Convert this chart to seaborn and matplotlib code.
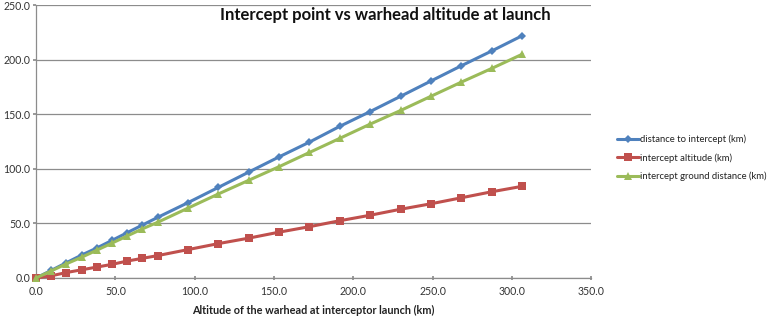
import matplotlib
matplotlib.use("Agg")
import matplotlib.pyplot as plt
import seaborn as sns
import pandas as pd

altitude = [0.0, 9.6, 19.1, 28.7, 38.3, 47.9, 57.4, 67.0, 76.6, 95.7, 114.9, 134.0,
            153.2, 172.3, 191.5, 210.6, 229.8, 248.9, 268.1, 287.2, 306.4]
distance_to_intercept = [0.0, 7.0, 14.0, 21.0, 27.5, 34.5, 41.5, 48.5, 55.5, 69.0, 83.0, 97.0,
                         111.0, 124.5, 139.0, 152.5, 166.5, 180.5, 194.5, 208.0, 222.0]
intercept_altitude = [0.0, 2.0, 5.0, 7.5, 10.0, 12.5, 15.5, 18.0, 20.5, 26.0, 31.5, 36.5,
                      42.0, 47.0, 52.5, 57.5, 63.0, 68.0, 73.5, 79.0, 84.0]
intercept_ground = [0.0, 6.5, 13.0, 19.0, 25.5, 32.0, 38.5, 45.0, 51.0, 64.0, 77.0, 89.5,
                    102.0, 115.0, 128.0, 141.0, 153.5, 166.5, 179.5, 192.0, 205.0]
series_names = ["distance to intercept (km)", "intercept altitude (km)",
                "intercept ground distance (km)"]
x_ticks = [0, 50, 100, 150, 200, 250, 300, 350]
y_ticks = [0, 50, 100, 150, 200, 250]

rows = []
for name, vals in zip(series_names, [distance_to_intercept, intercept_altitude, intercept_ground]):
    for x, v in zip(altitude, vals):
        rows.append({"alt": x, "val": v, "series": name})
df = pd.DataFrame(rows)

sns.set_theme(style="white")
plt.rcParams['font.family'] = ['Lato', 'DejaVu Sans']

fig = plt.figure(figsize=(7.68, 3.21), dpi=100)
ax = fig.add_axes([0.047, 0.134, 0.723, 0.85])

palette = {series_names[0]: "#4F81BD", series_names[1]: "#C0504D", series_names[2]: "#9BBB59"}
markers = {series_names[0]: "D", series_names[1]: "s", series_names[2]: "^"}
sizes_m = {series_names[0]: 4, series_names[1]: 6, series_names[2]: 6}

for name in series_names:
    sub = df[df["series"] == name]
    sns.lineplot(data=sub, x="alt", y="val", ax=ax, color=palette[name], marker=markers[name],
                 markersize=sizes_m[name], markeredgewidth=0, linewidth=2.2, label=name,
                 clip_on=False, zorder=3)

ax.set_xlim(0, 350)
ax.set_ylim(0, 250)
ax.set_xticks(x_ticks)
ax.set_yticks(y_ticks)
ax.set_xticklabels([f"{t:.1f}" for t in x_ticks], fontsize=7.6, color="#333333")
ax.set_yticklabels([f"{t:.1f}" for t in y_ticks], fontsize=7.6, color="#333333")
ax.yaxis.grid(True, color="#8c8c8c", linewidth=0.9)
ax.xaxis.grid(False)
for s in ["top", "right"]:
    ax.spines[s].set_visible(False)
for s in ["left", "bottom"]:
    ax.spines[s].set_color("#8c8c8c")
    ax.spines[s].set_linewidth(0.9)
ax.tick_params(axis="x", bottom=True, length=3, color="#8c8c8c", direction="inout", pad=4)
ax.tick_params(axis="y", left=True, length=2, color="#8c8c8c", direction="out", pad=2)
ax.set_ylabel("")
ax.set_xlabel("Altitude of the warhead at interceptor launch (km)", fontsize=7.8,
              fontweight="bold", color="#222222", labelpad=6)

leg = ax.legend(loc="center left", bbox_to_anchor=(1.03, 0.44), frameon=False,
                fontsize=6.8, handlelength=2.4, handletextpad=0.1, labelspacing=0.95)
for t in leg.get_texts():
    t.set_color("#222222")

fig.text(0.502, 0.952, "Intercept point vs warhead altitude at launch", ha="center", va="center",
         fontsize=12, fontweight="bold", color="#111111")

fig.savefig("out.png", dpi=100)
